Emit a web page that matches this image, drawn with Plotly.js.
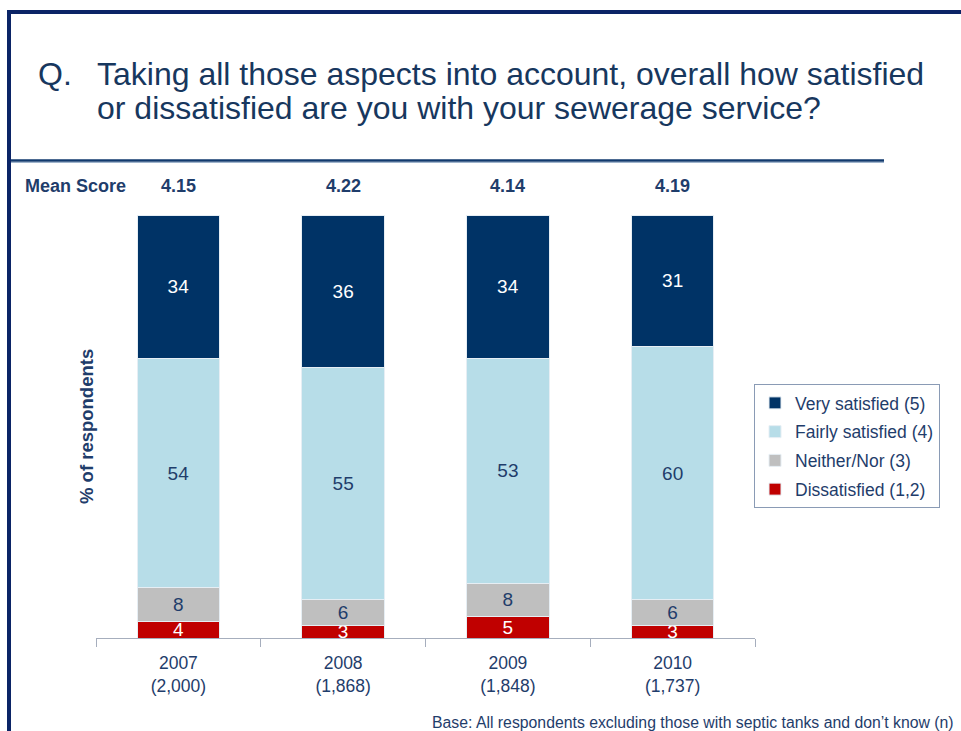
<!DOCTYPE html>
<html>
<head>
<meta charset="utf-8">
<script src="https://cdn.plot.ly/plotly-3.0.1.min.js"></script>
<style>html,body{margin:0;padding:0;background:#fff;}#chart{width:961px;height:731px;}</style>
</head>
<body>
<div id="chart"></div>
<script>
// ---- data ----
const years = ["2007", "2008", "2009", "2010"];
const baseN = ["(2,000)", "(1,868)", "(1,848)", "(1,737)"];
const meanScores = ["4.15", "4.22", "4.14", "4.19"];
const dissatisfied = [4, 3, 5, 3];
const neither = [8, 6, 8, 6];
const fairly = [54, 55, 53, 60];
const very = [34, 36, 34, 31];
const seriesNames = ["Dissatisfied (1,2)", "Neither/Nor (3)", "Fairly satisfied (4)", "Very satisfied (5)"];
const titleLine1 = "Taking all those aspects into account, overall how satisfied";
const titleLine2 = "or dissatisfied are you with your sewerage service?";
const footnote = "Base: All respondents excluding those with septic tanks and don\u2019t know (n)";

// ---- layout helpers (pixel -> paper) ----
const W = 961, H = 731;
const L = 96, R = 755, T = 215, B = 638;
const px = x => (x - L) / (R - L);
const py = y => (B - y) / (B - T);

const navy = "#1F3D6B";
const colors = ["#C00000", "#BFBFBF", "#B7DDE8", "#003366"];
const textColors = ["#FFFFFF", navy, navy, "#FFFFFF"];
const cats = years.map((y, i) => y + "<br>" + baseN[i]);
const vals = [dissatisfied, neither, fairly, very];

const font = "Liberation Sans, Arial, sans-serif";

const traces = vals.map((v, i) => ({
  type: "bar",
  name: seriesNames[i],
  legendgroup: "g" + i,
  legendrank: 1000 - i,
  x: cats,
  y: v,
  text: v.map(String),
  textposition: "inside",
  insidetextanchor: "middle",
  textangle: 0,
  constraintext: "none",
  textfont: {family: font, size: 19, color: textColors[i]},
  marker: {color: colors[i], line: {color: "#E6EEF4", width: 1}},
  width: 0.5,
  hoverinfo: "skip",
  cliponaxis: true
}));

const annotations = [
  {xref: "paper", yref: "paper", x: px(36), y: py(74), xanchor: "left", yanchor: "middle",
   text: "Q.", showarrow: false, font: {family: font, size: 32, color: "#17375E"}},
  {xref: "paper", yref: "paper", x: px(95), y: py(74), xanchor: "left", yanchor: "middle", align: "left",
   text: titleLine1, showarrow: false, font: {family: font, size: 32, color: "#17375E"}},
  {xref: "paper", yref: "paper", x: px(95), y: py(108), xanchor: "left", yanchor: "middle", align: "left",
   text: titleLine2, showarrow: false, font: {family: font, size: 32, color: "#17375E"}},
  {xref: "paper", yref: "paper", x: px(23), y: py(186), xanchor: "left", yanchor: "middle",
   text: "<b>Mean Score</b>", showarrow: false, font: {family: font, size: 18, color: navy}},
  {xref: "paper", yref: "paper", x: px(86), y: py(427), xanchor: "center", yanchor: "middle", textangle: -90,
   text: "<b>% of respondents</b>", showarrow: false, font: {family: font, size: 18.5, color: navy}},
  {xref: "paper", yref: "paper", x: px(956), y: py(722), xanchor: "right", yanchor: "middle",
   text: footnote, showarrow: false, font: {family: font, size: 15.8, color: navy}}
];
meanScores.forEach((m, i) => annotations.push({
  xref: "x", yref: "paper", x: cats[i], y: py(186), xanchor: "center", yanchor: "middle",
  text: "<b>" + m + "</b>", showarrow: false, font: {family: font, size: 18, color: navy}
}));

const shapes = [
  {type: "line", xref: "paper", yref: "paper", x0: px(7), x1: px(961), y0: py(12), y1: py(12), line: {color: "#0B2466", width: 4}},
  {type: "line", xref: "paper", yref: "paper", x0: px(9), x1: px(9), y0: py(10), y1: py(731), line: {color: "#0B2466", width: 4}},
  {type: "line", xref: "paper", yref: "paper", x0: px(11), x1: px(884), y0: py(160.5), y1: py(160.5), line: {color: "#123A6E", width: 2.5}},
  {type: "line", xref: "paper", yref: "paper", x0: px(11), x1: px(884), y0: py(162.5), y1: py(162.5), line: {color: "#9FB4CC", width: 1}}
];

const layout = {
  width: W, height: H,
  margin: {l: L, r: W - R, t: T, b: H - B, pad: 0},
  paper_bgcolor: "#FFFFFF", plot_bgcolor: "#FFFFFF",
  barmode: "stack",
  showlegend: true,
  legend: {
    x: px(754), y: py(384), xanchor: "left", yanchor: "top",
    traceorder: "grouped",
    bordercolor: "#8A9BB5", borderwidth: 1,
    font: {family: font, size: 17.5, color: navy},
    itemwidth: 30, tracegroupgap: 3
  },
  xaxis: {
    type: "category",
    showline: true, linecolor: "#A6AEBD", linewidth: 1,
    ticks: "outside", tickson: "boundaries", ticklen: 8, tickcolor: "#A6AEBD",
    ticklabelstandoff: 9,
    tickfont: {family: font, size: 17.5, color: navy},
    showgrid: false, zeroline: false, fixedrange: true
  },
  yaxis: {
    range: [0, 100], showgrid: false, zeroline: false, showticklabels: false,
    showline: false, ticks: "", fixedrange: true
  },
  annotations: annotations,
  shapes: shapes
};

Plotly.newPlot("chart", traces, layout, {displayModeBar: false, staticPlot: true});
</script>
</body>
</html>
